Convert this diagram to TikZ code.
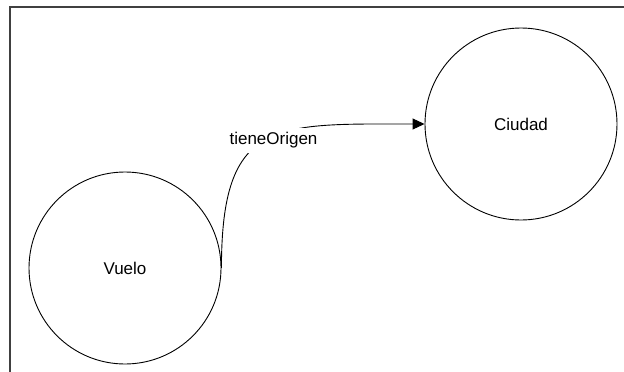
\documentclass[tikz,border=0pt]{standalone}
\usepackage{fontspec}
\setmainfont{Liberation Sans}
\usetikzlibrary{arrows.meta}
\begin{document}
\begin{tikzpicture}[x=1pt,y=-1pt,
  frameline/.style={draw=black!75, line width=1.3pt},
  classnode/.style={circle, draw=black, line width=0.9pt, minimum size=192pt, inner sep=0pt,
    font=\fontsize{17}{20}\selectfont},
  rel/.style={draw=black, line width=0.9pt, -{Triangle[length=12pt,width=11pt]}},
  rellabel/.style={fill=white, inner xsep=2pt, inner ysep=5pt, font=\fontsize{17}{20}\selectfont}]
  \useasboundingbox (0,0) rectangle (624,372);
  % page frame
  \coordinate (ftop) at (624,7);
  \coordinate (fcorner) at (10,7);
  \coordinate (fbot) at (10,372);
  \draw[frameline] (ftop) -- (fcorner) -- (fbot);
  % classes
  \node[classnode] (vuelo) at (125,268) {Vuelo};
  \node[classnode] (ciudad) at (521,124) {Ciudad};
  % relation
  \draw[rel] (vuelo.east) .. controls +(0,-150) and +(-150,0) .. (ciudad.west);
  \node[rellabel] (lab) at (273.5,140.5) {tieneOrigen};
\end{tikzpicture}
\end{document}
